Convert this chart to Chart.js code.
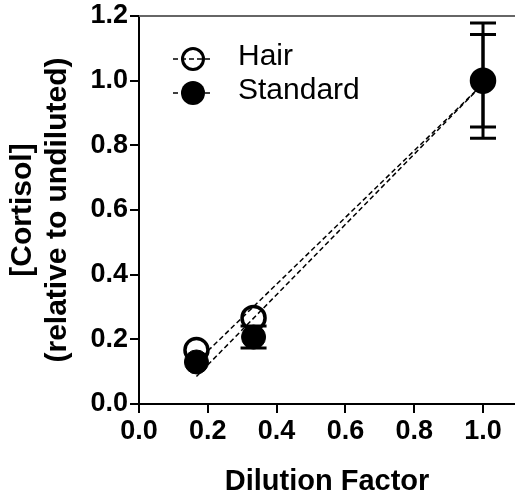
<!DOCTYPE html>
<html>
<head>
<meta charset="utf-8">
<script src="https://cdn.jsdelivr.net/npm/chart.js@4/dist/chart.umd.min.js"></script>
<style>
  body { margin: 0; background: #fff; }
  #wrap { width: 515px; height: 499px; }
</style>
</head>
<body>
<div id="wrap"><canvas id="chart" width="515" height="499"></canvas></div>
<script>
// Dilution factors and measured cortisol (relative to undiluted)
const dilution = [0.167, 0.333, 1.0];
const hairValues = [0.167, 0.266, 1.0];
const hairErrors = [0, 0, 0.178];
const standardValues = [0.13, 0.207, 1.0];
const standardErrors = [0, 0.034, 0.143];

// Dashed fit lines, end points
const fitX = [0.167, 1.0];
const hairFit = [0.13, 0.99];
const standardFit = [0.085, 0.99];

const xTicks = [0, 0.2, 0.4, 0.6, 0.8, 1.0];
const legendLabels = ['Hair', 'Standard'];

const toPoints = (xs, ys) => xs.map((x, i) => ({ x: x, y: ys[i] }));

// Draw the error bars for the two scatter series
const errorBars = {
    id: 'errorBars',
    afterDatasetsDraw(chart) {
        const ctx = chart.ctx;
        const xs = chart.scales.x, ys = chart.scales.y;
        const sets = [[hairValues, hairErrors], [standardValues, standardErrors]];
        ctx.save();
        ctx.strokeStyle = '#000';
        ctx.lineWidth = 3;
        sets.forEach(([vals, errs]) => {
            dilution.forEach((d, i) => {
                if (!errs[i]) return;
                const px = xs.getPixelForValue(d);
                const top = ys.getPixelForValue(vals[i] + errs[i]);
                const bot = ys.getPixelForValue(vals[i] - errs[i]);
                ctx.beginPath();
                ctx.moveTo(px, top); ctx.lineTo(px, bot);
                ctx.moveTo(px - 13, top); ctx.lineTo(px + 13, top);
                ctx.moveTo(px - 13, bot); ctx.lineTo(px + 13, bot);
                ctx.stroke();
            });
        });
        ctx.restore();
    }
};

// Top frame line and the legend inside the plot
const frameAndLegend = {
    id: 'frameAndLegend',
    afterDraw(chart) {
        const ctx = chart.ctx;
        const a = chart.chartArea;
        ctx.save();
        ctx.strokeStyle = '#666';
        ctx.lineWidth = 2;
        ctx.beginPath();
        ctx.moveTo(a.left, a.top);
        ctx.lineTo(chart.width, a.top);
        ctx.stroke();

        const lx = 193, ly = [59, 93];
        legendLabels.forEach((label, i) => {
            ctx.strokeStyle = '#000';
            ctx.lineWidth = 1.5;
            ctx.setLineDash([5, 3]);
            ctx.beginPath();
            ctx.moveTo(lx - 20, ly[i]);
            ctx.lineTo(lx + 20, ly[i]);
            ctx.stroke();
            ctx.setLineDash([]);
            ctx.beginPath();
            ctx.arc(lx, ly[i], i === 0 ? 10.5 : 12, 0, Math.PI * 2);
            if (i === 0) {
                ctx.lineWidth = 3;
                ctx.stroke();
            } else {
                ctx.fillStyle = '#000';
                ctx.fill();
            }
            ctx.fillStyle = '#000';
            ctx.font = '30px "Liberation Sans", Arial, sans-serif';
            ctx.textBaseline = 'middle';
            ctx.fillText(label, 238, ly[i] - 2);
        });
        ctx.restore();
    }
};

const tickFont = { family: '"Liberation Sans", Arial, sans-serif', size: 27, weight: 'bold' };

new Chart(document.getElementById('chart'), {
    type: 'scatter',
    data: {
        datasets: [
            {
                label: 'Standard',
                data: toPoints(dilution, standardValues),
                pointRadius: 12,
                pointBackgroundColor: '#000',
                pointBorderColor: '#000',
                pointBorderWidth: 1,
                showLine: false,
                order: 0
            },
            {
                label: 'Hair',
                data: toPoints(dilution, hairValues),
                pointRadius: 11.5,
                pointBackgroundColor: 'rgba(0,0,0,0)',
                pointBorderColor: '#000',
                pointBorderWidth: 3.5,
                showLine: false,
                order: 1
            },
            {
                label: 'Hair fit',
                type: 'line',
                data: toPoints(fitX, hairFit),
                borderColor: '#000',
                borderWidth: 1.5,
                borderDash: [5, 3],
                pointRadius: 0,
                fill: false,
                order: 2
            },
            {
                label: 'Standard fit',
                type: 'line',
                data: toPoints(fitX, standardFit),
                borderColor: '#000',
                borderWidth: 1.5,
                borderDash: [5, 3],
                pointRadius: 0,
                fill: false,
                order: 2
            }
        ]
    },
    options: {
        responsive: false,
        animation: false,
        layout: { autoPadding: false, padding: { top: 16, right: 0, left: 0, bottom: 0 } },
        plugins: {
            legend: { display: false },
            tooltip: { enabled: false }
        },
        scales: {
            x: {
                type: 'linear',
                min: 0,
                max: 1.093,
                afterBuildTicks: scale => {
                    scale.ticks = xTicks.map(v => ({ value: v }));
                },
                afterFit: scale => {
                    scale.height = 95;
                    scale.paddingLeft = 0;
                    scale.paddingRight = 0;
                },
                border: { display: true, color: '#000', width: 2 },
                grid: { drawOnChartArea: false, drawTicks: true, tickLength: 9, color: '#000', lineWidth: 2 },
                ticks: {
                    color: '#000',
                    font: tickFont,
                    padding: 2,
                    maxRotation: 0,
                    callback: v => v.toFixed(1)
                },
                title: {
                    display: true,
                    text: 'Dilution Factor',
                    color: '#000',
                    font: { family: '"Liberation Sans", Arial, sans-serif', size: 29, weight: 'bold' },
                    padding: { top: 0, bottom: 0 }
                }
            },
            y: {
                min: 0,
                max: 1.2,
                afterFit: scale => {
                    scale.width = 139;
                    scale.paddingTop = 0;
                    scale.paddingBottom = 0;
                },
                border: { display: true, color: '#000', width: 2 },
                grid: { drawOnChartArea: false, drawTicks: true, tickLength: 9, color: '#000', lineWidth: 2 },
                ticks: {
                    stepSize: 0.2,
                    color: '#000',
                    font: tickFont,
                    padding: 2,
                    callback: v => v.toFixed(1)
                },
                title: {
                    display: true,
                    text: ['[Cortisol]', '(relative to undiluted)'],
                    color: '#000',
                    font: { family: '"Liberation Sans", Arial, sans-serif', size: 30, weight: 'bold', lineHeight: 1.17 },
                    padding: { top: 5, bottom: 0 }
                }
            }
        }
    },
    plugins: [errorBars, frameAndLegend]
});
</script>
</body>
</html>
